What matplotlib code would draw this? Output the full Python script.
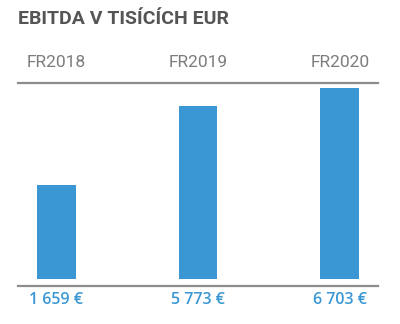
import matplotlib
matplotlib.use("Agg")
import matplotlib.pyplot as plt
from matplotlib.lines import Line2D
import numpy as np

# EBITDA per fiscal year, thousands of EUR
years = ["FR2018", "FR2019", "FR2020"]
ebitda = [1659, 5773, 6703]
value_labels = ["1 659 €", "5 773 €", "6 703 €"]

BASE = -3300  # axis floor, bars rise from here
blue = "#3a97d4"
grey_line = "#8c8c8c"

fig = plt.figure(figsize=(4.0, 3.24), dpi=100)
ax = fig.add_axes([0.045, 0.138, 0.9, 0.607])

x = np.arange(len(years))
vals = np.array(ebitda)
ax.bar(x, vals - BASE, bottom=BASE, width=0.275, color=blue)

ax.set_xlim(-0.27, 2.27)
ax.set_ylim(BASE, 7000)

for s in ["left", "right", "bottom"]:
    ax.spines[s].set_visible(False)
ax.spines["top"].set_color(grey_line)
ax.spines["top"].set_linewidth(1.6)
ax.set_yticks([])

ax.xaxis.tick_top()
ax.set_xticks(x)
ax.set_xticklabels(years, fontsize=12.5, color="#7d7d7d", family="Roboto")
ax.tick_params(axis="x", length=0, pad=9)

# baseline rule under the bars
fig.add_artist(Line2D([0.045, 0.945], [0.1173, 0.1173],
                      color=grey_line, lw=1.6))

for xi, lab in zip(x, value_labels):
    ax.annotate(lab, (xi, BASE), xytext=(0, -15), textcoords="offset points",
                ha="center", va="center", fontsize=11.5, color=blue,
                family="Open Sans", fontweight="semibold")

fig.text(0.045, 0.94, "EBITDA V TISÍCÍCH EUR", ha="left", va="center",
         fontsize=14, fontweight="bold", color="#555555",
         family=["Liberation Sans Narrow", "Roboto", "DejaVu Sans"])

fig.savefig("out.png", dpi=100)
